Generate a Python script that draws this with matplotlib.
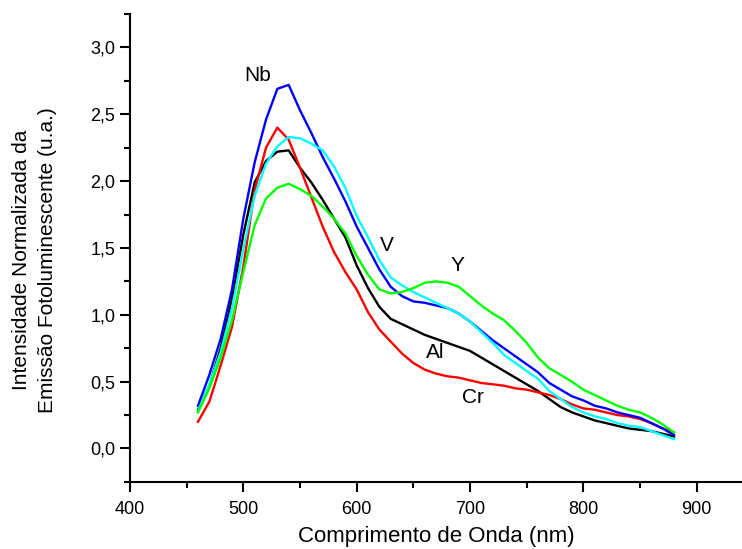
import matplotlib
matplotlib.use("Agg")
import matplotlib.pyplot as plt
from matplotlib.ticker import MultipleLocator, FuncFormatter

plt.rcParams["font.family"] = ["Liberation Sans", "DejaVu Sans"]

# wavelength grid (nm) and read-off intensities
wavelength = list(range(460, 881, 10))

nb = [0.32, 0.55, 0.82, 1.19, 1.72, 2.14, 2.46, 2.69, 2.72, 2.53, 2.36, 2.18, 2.02,
      1.85, 1.66, 1.50, 1.34, 1.21, 1.14, 1.10, 1.09, 1.07, 1.05, 1.01, 0.95, 0.88,
      0.81, 0.75, 0.69, 0.63, 0.57, 0.49, 0.44, 0.39, 0.36, 0.32, 0.30, 0.27, 0.25,
      0.23, 0.19, 0.15, 0.10]
cr = [0.20, 0.35, 0.62, 0.91, 1.36, 1.93, 2.25, 2.40, 2.31, 2.10, 1.88, 1.66, 1.47,
      1.32, 1.19, 1.02, 0.89, 0.80, 0.71, 0.64, 0.59, 0.56, 0.54, 0.53, 0.51, 0.49,
      0.48, 0.47, 0.45, 0.44, 0.42, 0.40, 0.37, 0.33, 0.30, 0.29, 0.27, 0.25, 0.24,
      0.22, 0.19, 0.15, 0.12]
al = [0.29, 0.47, 0.75, 1.12, 1.60, 1.99, 2.15, 2.22, 2.23, 2.10, 1.99, 1.86, 1.72,
      1.58, 1.37, 1.20, 1.06, 0.97, 0.93, 0.89, 0.85, 0.82, 0.79, 0.76, 0.73, 0.68,
      0.63, 0.58, 0.53, 0.48, 0.43, 0.37, 0.31, 0.27, 0.24, 0.21, 0.19, 0.17, 0.15,
      0.14, 0.13, 0.11, 0.09]
v = [0.28, 0.48, 0.72, 1.05, 1.49, 1.89, 2.13, 2.26, 2.33, 2.32, 2.28, 2.23, 2.11,
     1.95, 1.74, 1.58, 1.41, 1.28, 1.22, 1.17, 1.13, 1.09, 1.05, 1.01, 0.95, 0.87,
     0.79, 0.70, 0.64, 0.58, 0.52, 0.43, 0.37, 0.31, 0.27, 0.24, 0.22, 0.19, 0.17,
     0.16, 0.13, 0.10, 0.07]
y = [0.27, 0.45, 0.68, 0.96, 1.32, 1.67, 1.87, 1.95, 1.98, 1.94, 1.89, 1.81, 1.72,
     1.61, 1.44, 1.30, 1.19, 1.16, 1.17, 1.20, 1.24, 1.25, 1.24, 1.21, 1.14, 1.07,
     1.01, 0.96, 0.88, 0.79, 0.68, 0.60, 0.55, 0.50, 0.44, 0.40, 0.36, 0.32, 0.29,
     0.27, 0.23, 0.18, 0.12]

series = [("Al", al, "#000000"), ("Cr", cr, "#FF0000"), ("Nb", nb, "#0000FF"),
          ("V", v, "#00FFFF"), ("Y", y, "#00FF00")]

# label positions (nm, intensity)
labels = {"Nb": (513, 2.79), "V": (627, 1.52), "Y": (689, 1.37),
          "Al": (669, 0.72), "Cr": (703, 0.38)}

fig = plt.figure(figsize=(7.42, 5.49), dpi=100)
ax = fig.add_axes([0.1752, 0.1222, 0.8248, 0.8523])

for name, vals, color in series:
    ax.plot(wavelength, vals, color=color, lw=1.7)

for name, (lx, ly) in labels.items():
    ax.text(lx, ly, name, fontsize=15, ha="center", va="center")

ax.set_xlim(400, 940)
ax.set_ylim(-0.25, 3.25)
ax.xaxis.set_major_locator(MultipleLocator(100))
ax.xaxis.set_minor_locator(MultipleLocator(50))
ax.yaxis.set_major_locator(MultipleLocator(0.5))
ax.yaxis.set_minor_locator(MultipleLocator(0.25))
ax.yaxis.set_major_formatter(FuncFormatter(lambda val, pos: f"{val:.1f}".replace(".", ",")))

for side in ("top", "right"):
    ax.spines[side].set_visible(False)
for side in ("left", "bottom"):
    ax.spines[side].set_linewidth(1.5)

ax.tick_params(which="major", direction="out", length=7, width=1.5, labelsize=13)
ax.tick_params(axis="x", which="major", pad=7)
ax.tick_params(which="minor", direction="out", length=4.5, width=1.5)

fig.text(0.5876, 0.022, "Comprimento de Onda (nm)", fontsize=16, ha="center", va="center")
fig.text(0.047, 0.526, "Intensidade Normalizada da\nEmissão Fotoluminescente (u.a.)",
         fontsize=15, rotation=90, ha="center", va="center", multialignment="center",
         linespacing=1.45)

fig.savefig("out.png", dpi=100)
